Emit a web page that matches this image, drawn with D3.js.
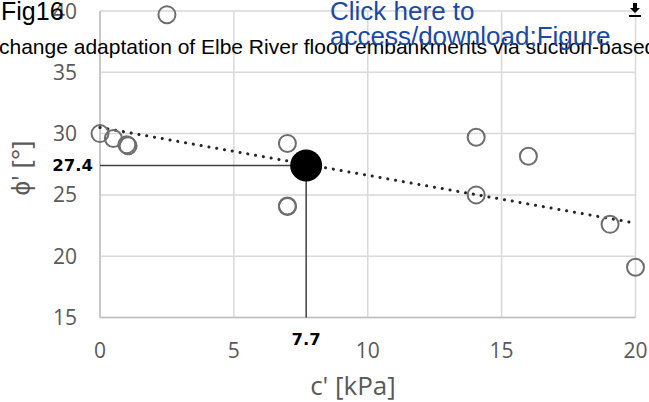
<!DOCTYPE html>
<html>
<head>
<meta charset="utf-8">
<script src="https://cdn.jsdelivr.net/npm/d3@7"></script>
<style>
  body { margin: 0; background: #fff; }
  svg { display: block; }
</style>
</head>
<body>
<div id="graph"></div>
<script>
// measured points: c' [kPa], phi' [deg]
const cVals   = [2.5, 0, 0.5, 1.0, 1.05, 7.0, 7.0, 7.0, 14.05, 16.0, 14.05, 19.05, 20.0];
const phiVals = [39.7, 30.0, 29.6, 29.1, 29.0, 29.2, 24.1, 24.05, 29.7, 28.15, 25.0, 22.6, 19.1];
// mean point
const meanC = [7.7];
const meanPhi = [27.4];
// linear trend line end points
const trendC = [0, 20];
const trendPhi = [30.5, 22.7];
const xTicks = [0, 5, 10, 15, 20];
const yTicks = [15, 20, 25, 30, 35, 40];

const width = 649, height = 402;
const svg = d3.select("#graph")
  .append("svg")
    .attr("width", width)
    .attr("height", height);

const x = d3.scaleLinear().domain([0, 20]).range([100, 635.5]);
const y = d3.scaleLinear().domain([15, 40]).range([317.5, 11]);

const fontAxis = "'Open Sans', sans-serif";
const fontHead = "'Liberation Sans', Arial, sans-serif";

// grid
svg.append("g")
  .selectAll("line")
  .data(xTicks)
  .join("line")
    .attr("x1", d => x(d)).attr("x2", d => x(d))
    .attr("y1", y(40)).attr("y2", y(15))
    .attr("stroke", "#d9d9d9").attr("stroke-width", 1.5);
svg.append("g")
  .selectAll("line")
  .data(yTicks)
  .join("line")
    .attr("x1", x(0)).attr("x2", x(20))
    .attr("y1", d => y(d)).attr("y2", d => y(d))
    .attr("stroke", "#d9d9d9").attr("stroke-width", 1.5);

// axes lines
svg.append("line")
  .attr("x1", x(0)).attr("x2", x(0)).attr("y1", y(40)).attr("y2", y(15))
  .attr("stroke", "#bfbfbf").attr("stroke-width", 1.5);
svg.append("line")
  .attr("x1", x(0)).attr("x2", x(20)).attr("y1", y(15)).attr("y2", y(15))
  .attr("stroke", "#bfbfbf").attr("stroke-width", 1.5);

// tick labels
svg.append("g")
  .selectAll("text")
  .data(xTicks)
  .join("text")
    .attr("x", d => x(d)).attr("y", 358)
    .attr("text-anchor", "middle")
    .attr("font-family", fontAxis).attr("font-size", 21)
    .attr("fill", "#595959")
    .text(d => d);
svg.append("g")
  .selectAll("text")
  .data(yTicks)
  .join("text")
    .attr("x", 77).attr("y", d => y(d) + 7.5)
    .attr("text-anchor", "end")
    .attr("font-family", fontAxis).attr("font-size", 21)
    .attr("fill", "#595959")
    .text(d => d);

// axis titles
svg.append("text")
  .attr("x", 353).attr("y", 395)
  .attr("text-anchor", "middle")
  .attr("font-family", fontAxis).attr("font-size", 26)
  .attr("fill", "#595959")
  .text("c' [kPa]");
svg.append("text")
  .attr("transform", "translate(30, 168) rotate(-90)")
  .attr("text-anchor", "middle")
  .attr("font-family", fontAxis).attr("font-size", 26)
  .attr("fill", "#595959")
  .text("ϕ' [°]");

// trend line
svg.append("path")
  .datum(trendC.map((c, i) => [c, trendPhi[i]]))
  .attr("fill", "none")
  .attr("stroke", "#262626")
  .attr("stroke-width", 3)
  .attr("stroke-linecap", "round")
  .attr("stroke-dasharray", "0.1 7.8")
  .attr("d", d3.line().x(d => x(d[0])).y(d => y(d[1])));

// reference lines to mean point
svg.append("line")
  .attr("x1", x(0)).attr("x2", x(meanC[0]))
  .attr("y1", y(meanPhi[0])).attr("y2", y(meanPhi[0]))
  .attr("stroke", "#404040").attr("stroke-width", 1.5);
svg.append("line")
  .attr("x1", x(meanC[0])).attr("x2", x(meanC[0]))
  .attr("y1", y(meanPhi[0])).attr("y2", y(15))
  .attr("stroke", "#404040").attr("stroke-width", 1.5);

// data points
svg.append("g")
  .selectAll("circle")
  .data(cVals.map((c, i) => [c, phiVals[i]]))
  .join("circle")
    .attr("cx", d => x(d[0])).attr("cy", d => y(d[1]))
    .attr("r", 8.5)
    .attr("fill", "none")
    .attr("stroke", "#6e6e6e")
    .attr("stroke-width", 2);

// mean point
svg.append("circle")
  .attr("cx", x(meanC[0])).attr("cy", y(meanPhi[0]))
  .attr("r", 16)
  .attr("fill", "#000");

// mean labels
svg.append("text")
  .attr("x", 93).attr("y", y(meanPhi[0]) + 6)
  .attr("text-anchor", "end")
  .attr("font-family", "'DejaVu Sans', sans-serif").attr("font-weight", "bold")
  .attr("font-size", 16.5)
  .attr("fill", "#000")
  .text(meanPhi[0]);
svg.append("text")
  .attr("x", x(meanC[0])).attr("y", 345)
  .attr("text-anchor", "middle")
  .attr("font-family", "'DejaVu Sans', sans-serif").attr("font-weight", "bold")
  .attr("font-size", 16.5)
  .attr("fill", "#000")
  .text(meanC[0]);

// page header overlay
svg.append("text")
  .attr("x", 1).attr("y", 20)
  .attr("font-family", fontHead).attr("font-size", 25)
  .attr("fill", "#000")
  .text("Fig16");
svg.append("text")
  .attr("x", -1).attr("y", 54)
  .attr("font-family", fontHead).attr("font-size", 21)
  .attr("fill", "#000")
  .text("change adaptation of Elbe River flood embankments via suction-based");
const link = svg.append("text")
  .attr("font-family", fontHead).attr("font-size", 26)
  .attr("fill", "#1a49a8");
link.append("tspan").attr("x", 330).attr("y", 20).text("Click here to");
link.append("tspan").attr("x", 330).attr("y", 45).text("access/download;Figure");

// download icon
const ic = svg.append("g").attr("fill", "#000");
ic.append("path").attr("d", "M633,3 h4 v5 h3 l-5,5 l-5,-5 h3 z");
ic.append("rect").attr("x", 629).attr("y", 15).attr("width", 12).attr("height", 2);
</script>
</body>
</html>
